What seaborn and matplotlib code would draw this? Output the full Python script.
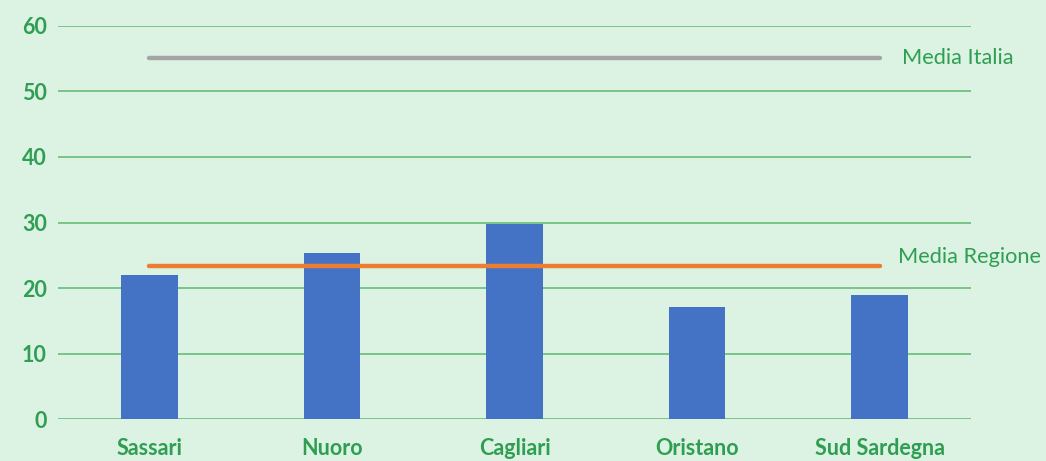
import pandas as pd
import numpy as np
import matplotlib.pyplot as plt
import seaborn as sns

provinces = ["Sassari", "Nuoro", "Cagliari", "Oristano", "Sud Sardegna"]
values = [22.0, 25.4, 29.8, 17.1, 19.0]
media_regione = 23.4
media_italia = 55.1
y_ticks = [0, 10, 20, 30, 40, 50, 60]

bg = "#dcf3e3"
green = "#2f9e52"
grid_green = "#5cb870"

sns.set_theme(style="white")
plt.rcParams['font.family'] = ['Lato', 'DejaVu Sans']

df = pd.DataFrame({"Provincia": provinces, "Valore": values})

fig = plt.figure(figsize=(10.46, 4.61), dpi=100)
fig.patch.set_facecolor(bg)
ax = fig.add_axes([0.0555, 0.0904, 0.8727, 0.8538])
ax.set_facecolor(bg)

sns.barplot(data=df, x="Provincia", y="Valore", color="#4472c4",
            width=0.31, saturation=1, linewidth=0, ax=ax, zorder=3)

pos = np.arange(len(provinces))
ax.plot(pos, [media_italia] * len(pos), color="#a5a5a5", lw=3.2,
        solid_capstyle="round", zorder=4)
ax.plot(pos, [media_regione] * len(pos), color="#ed7d31", lw=3.2,
        solid_capstyle="round", zorder=4)

ax.text(pos[-1] + 0.125, media_italia, "Media Italia", color=green,
        fontsize=15.7, va="center", ha="left", clip_on=False)
ax.text(pos[-1] + 0.10, media_regione + 1.3, "Media Regione", color=green,
        fontsize=15.7, va="center", ha="left", clip_on=False)

ax.set_xlim(-0.5, len(provinces) - 0.5)
ax.set_ylim(0, 60)
ax.set_yticks(y_ticks)
ax.yaxis.grid(True, color=grid_green, lw=1.1, zorder=0)
ax.set_axisbelow(True)
for s in ax.spines.values():
    s.set_visible(False)

ax.set_xlabel("")
ax.set_ylabel("")
ax.tick_params(axis="both", length=0, colors=green)
ax.tick_params(axis="x", pad=13.5)
ax.tick_params(axis="y", pad=8)
for lab in ax.get_xticklabels() + ax.get_yticklabels():
    lab.set_fontweight("bold")
    lab.set_fontsize(15.5)
    lab.set_color(green)

plt.savefig("out.png", dpi=100, facecolor=bg)
